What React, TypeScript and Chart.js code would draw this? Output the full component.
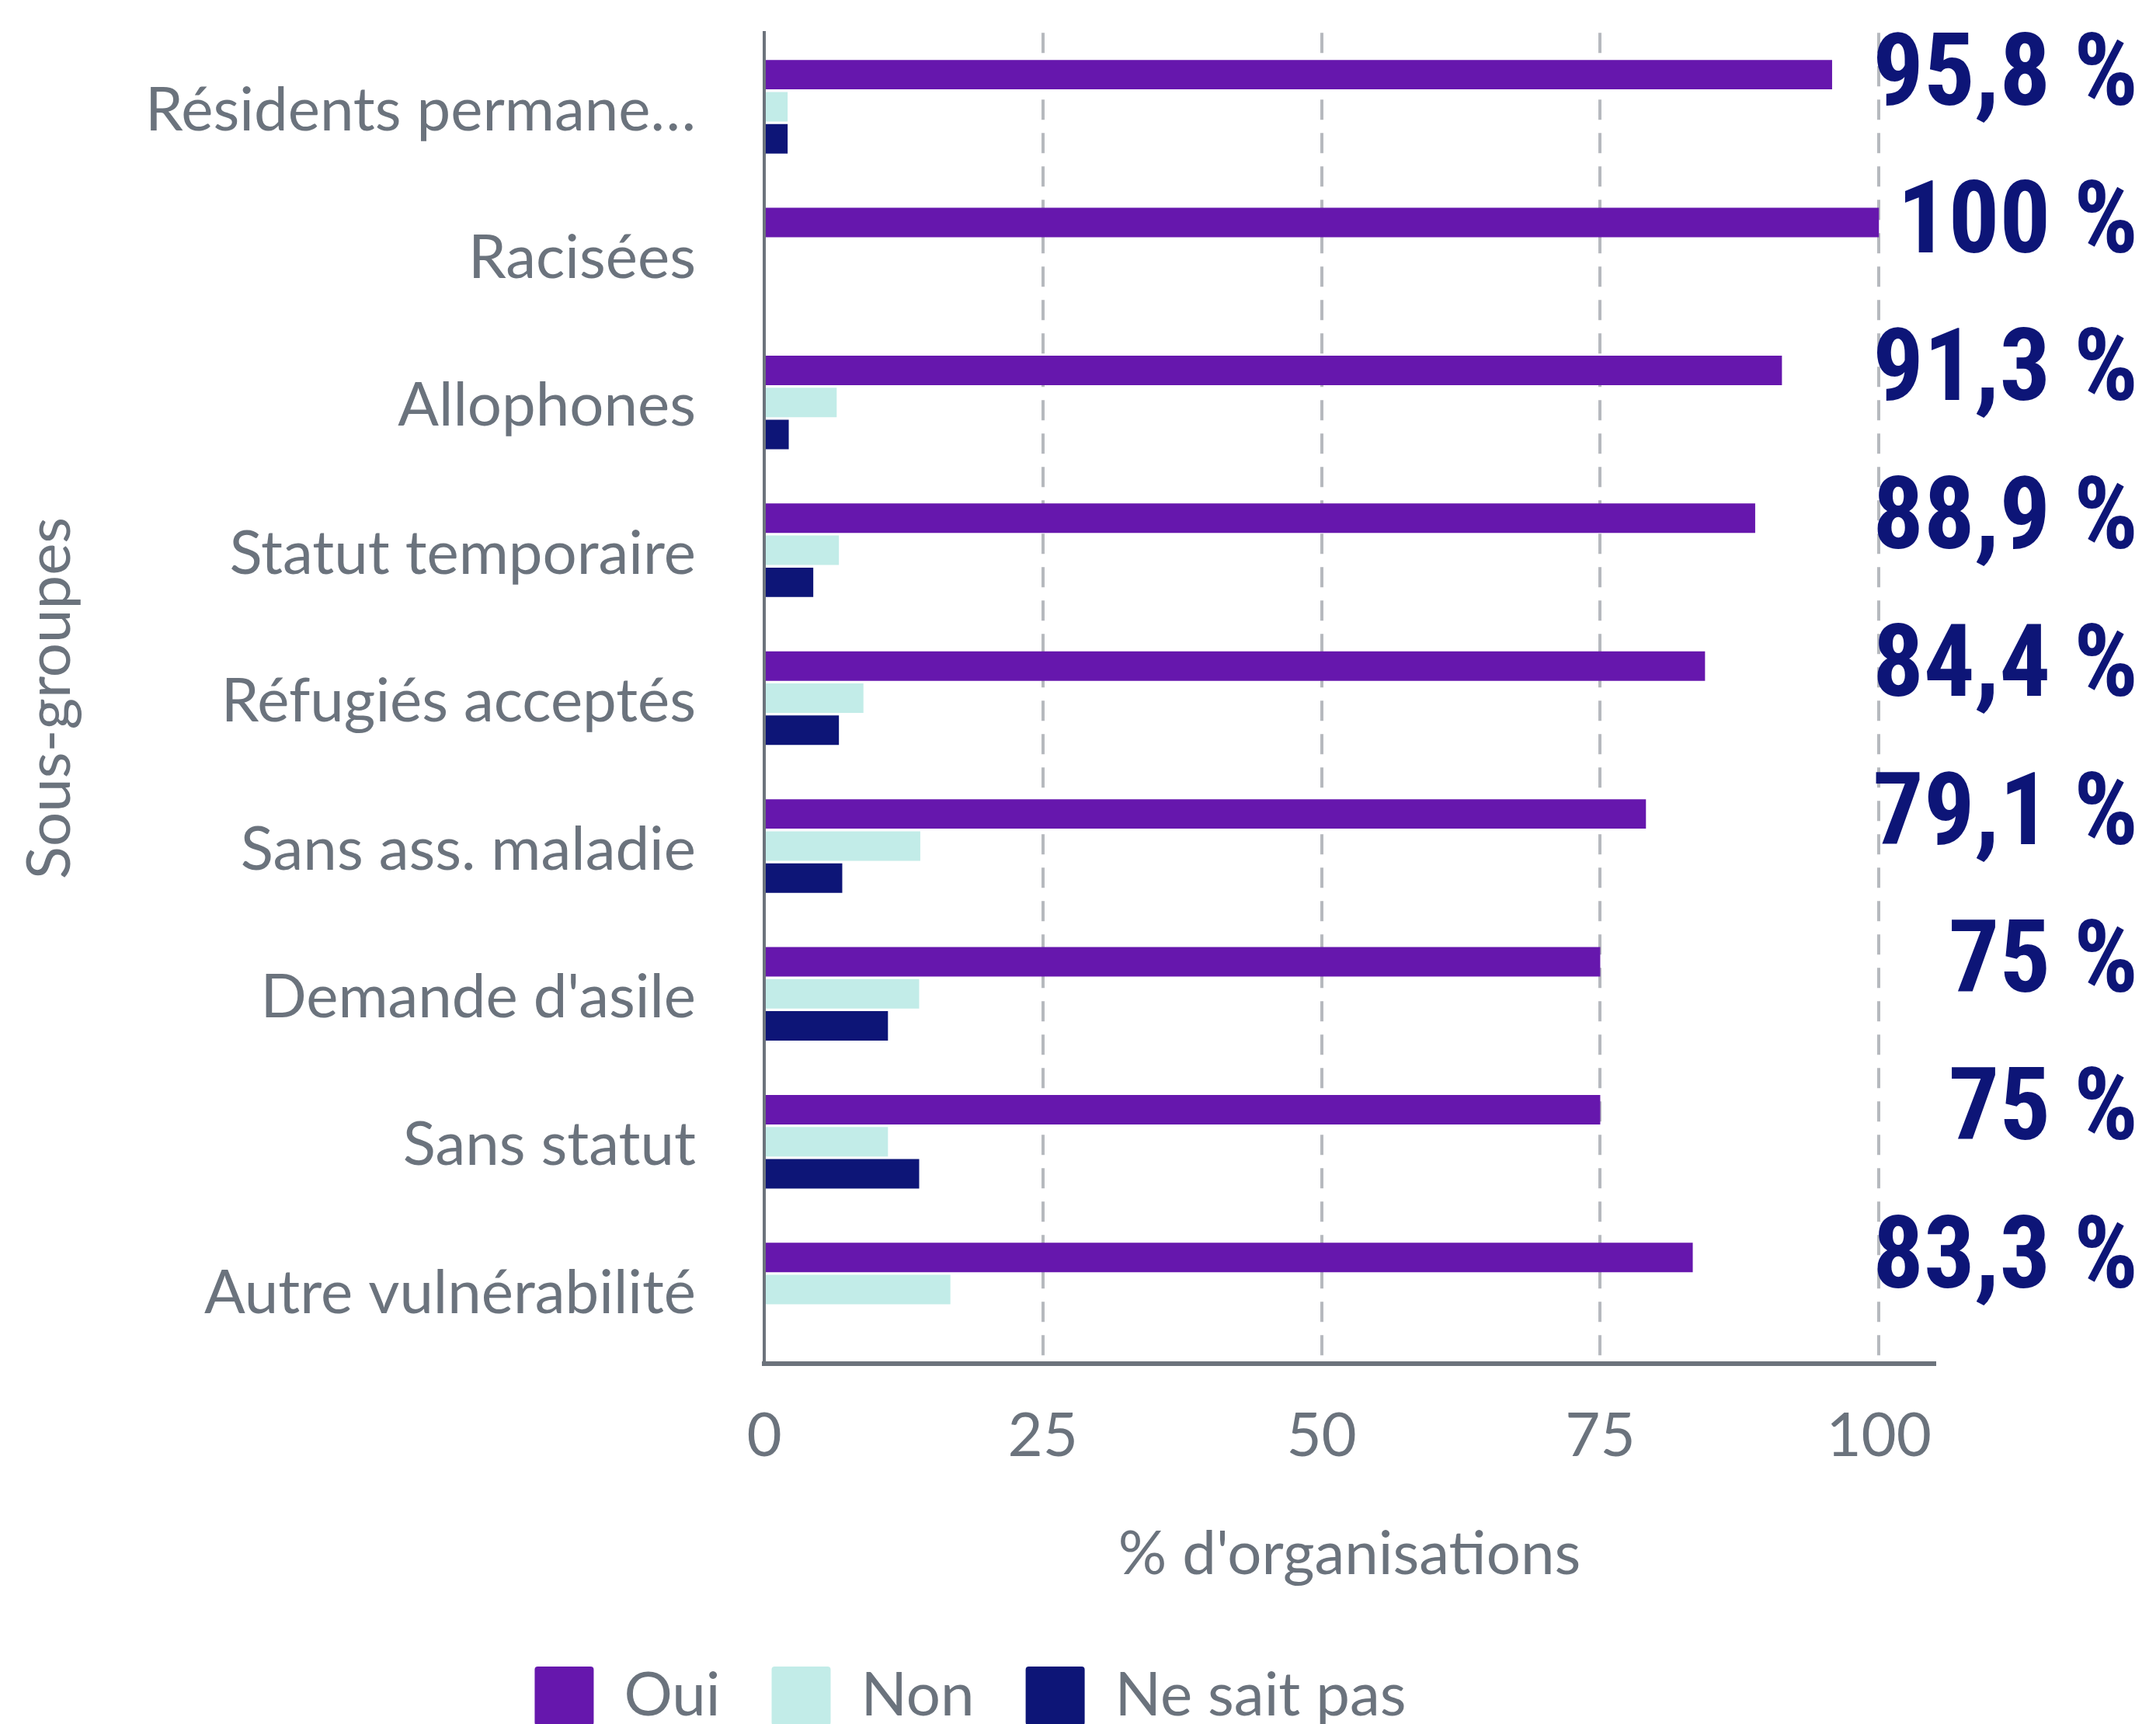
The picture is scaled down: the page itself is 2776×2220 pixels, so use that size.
import React, { useEffect, useRef } from 'react';
import { Chart, registerables } from 'chart.js';

Chart.register(...registerables);

const categories = [
  'Résidents permane…',
  'Racisées',
  'Allophones',
  'Statut temporaire',
  'Réfugiés acceptés',
  'Sans ass. maladie',
  "Demande d'asile",
  'Sans statut',
  'Autre vulnérabilité',
];
const ouiValues = [95.8, 100, 91.3, 88.9, 84.4, 79.1, 75, 75, 83.3];
const nonValues = [2.1, 0, 6.5, 6.7, 8.9, 14.0, 13.9, 11.1, 16.7];
const nspValues = [2.1, 0, 2.2, 4.4, 6.7, 7.0, 11.1, 13.9, 0];
const seriesNames = ['Oui', 'Non', 'Ne sait pas'];
const xTickValues = [0, 25, 50, 75, 100];

const GRAY = '#6b737d';
const FONT = 'Lato, "Noto Sans", sans-serif';

const valueLabelPlugin = {
  id: 'valueLabels',
  afterDatasetsDraw(chart: any) {
    const meta = chart.getDatasetMeta(0);
    const ctx = chart.ctx;
    ctx.save();
    ctx.font = 'bold 130px "Liberation Sans Narrow", "Roboto Condensed", "DejaVu Sans Condensed", sans-serif';
    ctx.fillStyle = '#0d1577';
    ctx.textAlign = 'right';
    ctx.textBaseline = 'middle';
    meta.data.forEach((bar: any, i: number) => {
      const txt = String(ouiValues[i]).replace('.', ',') + ' %';
      ctx.fillText(txt, chart.width - 15, bar.y + 6);
    });
    ctx.restore();
  },
};

export default function App() {
  const ref = useRef<HTMLCanvasElement | null>(null);
  useEffect(() => {
    if (!ref.current) return;
    const common = { categoryPercentage: 0.65, barPercentage: 0.92, borderWidth: 0 };
    const chart = new Chart(ref.current, {
      type: 'bar',
      data: {
        labels: categories,
        datasets: [
          { label: seriesNames[0], data: ouiValues, backgroundColor: '#6617ad', ...common },
          { label: seriesNames[1], data: nonValues, backgroundColor: '#c2ece8', ...common },
          { label: seriesNames[2], data: nspValues, backgroundColor: '#0d1577', ...common },
        ],
      },
      options: {
        indexAxis: 'y',
        animation: false,
        responsive: true,
        maintainAspectRatio: false,
        layout: { padding: { top: 0, right: 277, left: 0, bottom: 0 } },
        scales: {
          x: {
            min: 0,
            max: 105,
            afterBuildTicks: (scale: any) => {
              scale.ticks = xTickValues.map((v) => ({ value: v }));
            },
            grid: {
              color: (c: any) => (c.tick && c.tick.value === 0 ? 'rgba(0,0,0,0)' : '#b6b9be'),
              lineWidth: 4,
              drawTicks: false,
            },
            border: { display: true, color: '#6c737c', width: 6, dash: [26, 17] },
            ticks: { color: GRAY, font: { family: FONT, size: 78 }, padding: 47 },
            title: {
              display: true,
              text: "% d'organisations",
              color: GRAY,
              font: { family: FONT, size: 78 },
              padding: { top: 12, bottom: 30 },
            },
          },
          y: {
            afterFit: (scale: any) => {
              scale.width = 976;
            },
            grid: { display: false, drawTicks: true, tickLength: 85 },
            border: { display: true, color: '#6c737c', width: 4 },
            ticks: { color: GRAY, font: { family: FONT, size: 78, lineHeight: 0.8 }, padding: 3, labelOffset: 5 },
            title: {
              display: true,
              text: 'Sous-groupes',
              color: GRAY,
              font: { family: FONT, size: 78 },
              padding: { top: 10, bottom: 10 },
            },
          },
        },
        plugins: {
          legend: {
            position: 'bottom',
            labels: {
              color: GRAY,
              font: { family: FONT, size: 78 },
              boxWidth: 76,
              boxHeight: 76,
              padding: 66,
              useBorderRadius: true,
              borderRadius: 4,
            },
          },
          tooltip: { enabled: false },
        },
      },
      plugins: [valueLabelPlugin],
    } as any);
    return () => chart.destroy();
  }, []);
  return (
    <div style={{ position: 'relative', height: '2225px' }}>
      <canvas ref={ref} />
    </div>
  );
}
